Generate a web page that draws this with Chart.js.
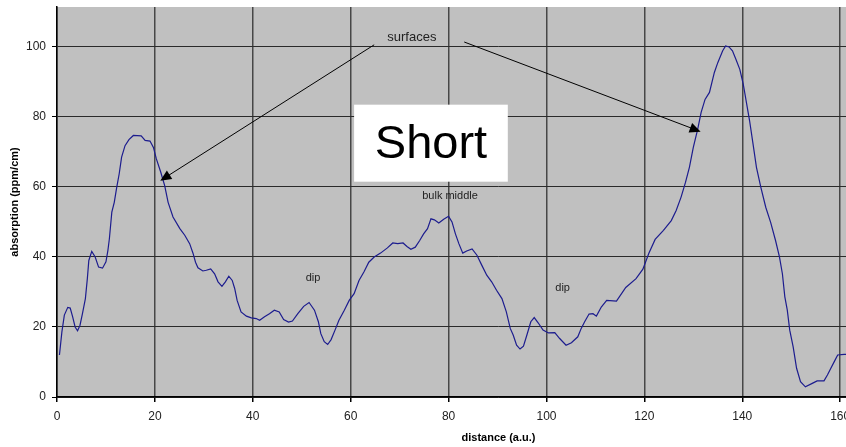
<!DOCTYPE html>
<html>
<head>
<meta charset="utf-8">
<script src="https://cdn.jsdelivr.net/npm/chart.js@4.4.0/dist/chart.umd.min.js"></script>
<style>
html, body { margin: 0; padding: 0; background: #fff; overflow: hidden; }
#wrap { width: 846px; height: 447px; overflow: hidden; }
canvas { display: block; }
</style>
</head>
<body>
<div id="wrap"><canvas id="chart" width="940" height="447"></canvas></div>
<script>
// profile (distance a.u., absorption ppm/cm)
const distance = [
  0.5, 1.0, 1.5, 2.2, 2.7, 3.2, 3.7, 4.2, 4.7, 5.2, 5.8, 6.2, 6.5, 7.1, 7.8, 8.5, 9.3, 10.0,
  10.4, 10.7, 11.2, 11.7, 12.2, 12.7, 13.2, 13.9, 14.7, 15.6, 17.2, 18.0, 19.0, 19.7, 20.3,
  21.2, 22.0, 22.7, 23.7, 25.1, 26.1, 27.1, 27.8, 28.3, 28.8, 29.8, 30.5, 31.4, 32.2, 32.9,
  33.7, 34.4, 35.1, 35.8, 36.3, 36.8, 37.6, 38.7, 39.7, 40.7, 41.4, 42.4, 43.4, 44.4, 45.4,
  46.3, 47.3, 48.1, 49.2, 50.4, 51.5, 52.6, 53.4, 53.9, 54.6, 55.3, 56.0, 56.8, 57.6, 58.7,
  59.7, 60.7, 61.7, 62.7, 63.7, 64.8, 66.1, 67.5, 68.6, 69.6, 70.7, 71.5, 72.3, 73.2, 74.1,
  74.9, 75.7, 76.4, 77.1, 78.0, 79.0, 80.0, 80.7, 81.4, 82.1, 82.9, 83.7, 84.8, 85.8, 86.8,
  87.8, 88.8, 89.8, 90.9, 91.8, 92.6, 93.2, 93.9, 94.6, 95.3, 96.0, 96.8, 97.5, 98.3, 99.3,
  100.4, 101.7, 102.7, 104.0, 105.1, 106.4, 107.1, 107.8, 108.7, 109.5, 110.2, 111.2, 112.3,
  114.3, 116.2, 118.3, 119.7, 120.9, 122.2, 123.9, 125.5, 126.5, 127.5, 128.4, 129.2, 130.0,
  130.9, 131.6, 132.4, 133.3, 134.3, 135.0, 136.0, 136.6, 137.3, 138.0, 138.7, 139.5, 140.2,
  140.9, 141.5, 142.2, 142.9, 143.8, 144.8, 145.8, 146.8, 147.6, 148.2, 148.7, 149.2, 149.7,
  150.4, 151.1, 151.9, 152.9, 154.3, 155.3, 156.7, 157.4, 158.1, 158.8, 159.5, 160.8, 161.5
];
const absorption = [
  12.0, 18.6, 23.4, 25.6, 25.4, 22.9, 20.0, 18.9, 20.5, 23.8, 28.1, 33.8, 39.0, 41.6, 40.0, 37.1, 36.8, 38.6,
  41.9, 45.2, 52.8, 55.6, 59.9, 63.7, 68.5, 71.8, 73.5, 74.7, 74.6, 73.3, 73.1, 71.3, 68.0,
  64.2, 60.4, 55.6, 51.4, 48.1, 46.2, 43.8, 41.0, 38.5, 36.9, 36.0, 36.2, 36.6, 35.2, 32.9,
  31.6, 32.9, 34.5, 33.3, 31.0, 27.6, 24.3, 23.1, 22.6, 22.4, 21.9, 22.9, 23.8, 24.8, 24.3,
  22.1, 21.4, 21.7, 23.8, 25.9, 27.0, 24.8, 21.5, 18.1, 15.8, 15.0, 16.4, 19.1, 21.9, 24.8,
  27.6, 29.5, 33.3, 35.7, 38.5, 40.0, 41.1, 42.6, 44.0, 43.8, 44.0, 43.0, 42.2, 42.8, 44.7,
  46.6, 48.1, 50.9, 50.6, 49.7, 50.8, 51.6, 50.0, 46.6, 43.8, 41.1, 41.7, 42.3, 40.5, 37.6,
  34.8, 32.9, 30.5, 28.1, 24.3, 19.6, 17.7, 14.8, 13.7, 14.5, 17.7, 21.5, 22.7, 21.2, 19.1,
  18.3, 18.4, 16.7, 14.8, 15.5, 17.2, 19.6, 21.5, 23.7, 23.8, 23.1, 25.7, 27.6,
  27.4, 31.3, 33.8, 36.5, 41.0, 45.0, 47.6, 50.4, 53.3, 57.1, 61.3, 65.6, 71.3,
  76.5, 81.3, 85.0, 87.0, 92.7, 95.5, 98.9, 100.3, 100.0, 98.9, 96.5, 93.6, 89.4,
  83.7, 78.9, 72.3, 65.6, 59.9, 54.2, 49.9, 44.7, 40.0, 35.2, 28.6, 24.8, 19.1,
  14.3, 8.2, 4.4, 2.9, 3.9, 4.6, 4.6, 6.3, 8.2, 10.1, 12.0, 12.2, 12.2
];

const xTicks = [0, 20, 40, 60, 80, 100, 120, 140, 160];
const yTicks = [0, 20, 40, 60, 80, 100];

// notes on the plot, placed in data units
const noteText = ['surfaces', 'bulk middle', 'dip', 'dip'];
const noteX = [72.5, 80.3, 52.3, 103.3];
const noteY = [102.8, 57.3, 33.9, 31.1];
const arrowFromX = [64.8, 83.2];
const arrowFromY = [100.6, 101.4];
const arrowToX = [21.1, 131.5];
const arrowToY = [61.8, 75.8];
const boxText = 'Short';
const boxX = [60.7, 92.1];
const boxY = [61.5, 83.5];

const FONT = '"Liberation Sans", Arial, sans-serif';

const points = distance.map((d, i) => ({ x: d, y: absorption[i] }));

const plotBg = {
  id: 'plotBg',
  beforeDraw(chart) {
    const a = chart.chartArea, ctx = chart.ctx;
    ctx.save();
    ctx.fillStyle = '#c0c0c0';
    ctx.fillRect(a.left, a.top, a.right - a.left, a.bottom - a.top);
    ctx.restore();
  }
};

function arrow(ctx, x1, y1, x2, y2) {
  const ang = Math.atan2(y2 - y1, x2 - x1);
  const len = 11, half = 5;
  ctx.beginPath();
  ctx.moveTo(x1, y1);
  ctx.lineTo(x2 - Math.cos(ang) * len * 0.8, y2 - Math.sin(ang) * len * 0.8);
  ctx.stroke();
  ctx.beginPath();
  ctx.moveTo(x2, y2);
  ctx.lineTo(x2 - Math.cos(ang) * len - Math.sin(ang) * half, y2 - Math.sin(ang) * len + Math.cos(ang) * half);
  ctx.lineTo(x2 - Math.cos(ang) * len + Math.sin(ang) * half, y2 - Math.sin(ang) * len - Math.cos(ang) * half);
  ctx.closePath();
  ctx.fill();
}

const notes = {
  id: 'notes',
  afterDatasetsDraw(chart) {
    const ctx = chart.ctx, xs = chart.scales.x, ys = chart.scales.y;
    ctx.save();
    // white box with big label
    const bx1 = xs.getPixelForValue(boxX[0]), bx2 = xs.getPixelForValue(boxX[1]);
    const by1 = ys.getPixelForValue(boxY[1]), by2 = ys.getPixelForValue(boxY[0]);
    ctx.fillStyle = '#fff';
    ctx.fillRect(bx1, by1, bx2 - bx1, by2 - by1);
    ctx.fillStyle = '#000';
    ctx.font = '47px ' + FONT;
    ctx.textAlign = 'center';
    ctx.textBaseline = 'middle';
    ctx.fillText(boxText, (bx1 + bx2) / 2, (by1 + by2) / 2 + 2);

    ctx.fillStyle = '#222';
    noteText.forEach((t, i) => {
      ctx.font = (i === 0 ? '13px ' : '11px ') + FONT;
      ctx.fillText(t, xs.getPixelForValue(noteX[i]), ys.getPixelForValue(noteY[i]));
    });

    ctx.strokeStyle = '#000';
    ctx.fillStyle = '#000';
    ctx.lineWidth = 1;
    arrowFromX.forEach((_, i) => {
      arrow(ctx,
        xs.getPixelForValue(arrowFromX[i]), ys.getPixelForValue(arrowFromY[i]),
        xs.getPixelForValue(arrowToX[i]), ys.getPixelForValue(arrowToY[i]));
    });
    ctx.restore();
  }
};

new Chart(document.getElementById('chart'), {
  type: 'scatter',
  data: {
    datasets: [{
      data: points,
      showLine: true,
      borderColor: '#1c1c8e',
      borderWidth: 1.2,
      pointRadius: 0,
      tension: 0
    }]
  },
  options: {
    responsive: false,
    animation: false,
    layout: { padding: { top: 7, left: 0, right: 0, bottom: 0 } },
    plugins: { legend: { display: false }, tooltip: { enabled: false } },
    scales: {
      x: {
        type: 'linear',
        min: 0,
        max: 180.4,
        afterBuildTicks: s => { s.ticks = xTicks.map(v => ({ value: v })); },
        afterFit: s => { s.height = 50; s.paddingLeft = 0; s.paddingRight = 0; },
        ticks: { color: '#222', font: { family: FONT, size: 12 }, padding: 7, maxRotation: 0 },
        grid: { color: '#474747', lineWidth: 1.5, tickLength: 5, tickColor: '#000' },
        border: { color: '#000', width: 1.5 },
        title: { display: true, text: 'distance (a.u.)', color: '#000', font: { family: FONT, size: 11, weight: 'bold' }, padding: { top: 2, bottom: 2 } }
      },
      y: {
        min: 0,
        max: 111.4,
        afterBuildTicks: s => { s.ticks = yTicks.map(v => ({ value: v })); },
        afterFit: s => { s.width = 57; s.paddingTop = 0; s.paddingBottom = 0; },
        ticks: { color: '#222', font: { family: FONT, size: 12 }, padding: 6 },
        grid: { color: '#2a2a2a', lineWidth: 1, tickLength: 5, tickColor: '#000' },
        border: { color: '#000', width: 1.5 },
        title: { display: true, text: 'absorption (ppm/cm)', color: '#000', font: { family: FONT, size: 11, weight: 'bold' }, padding: { top: 8, bottom: 0 } }
      }
    }
  },
  plugins: [plotBg, notes]
});
</script>
</body>
</html>
